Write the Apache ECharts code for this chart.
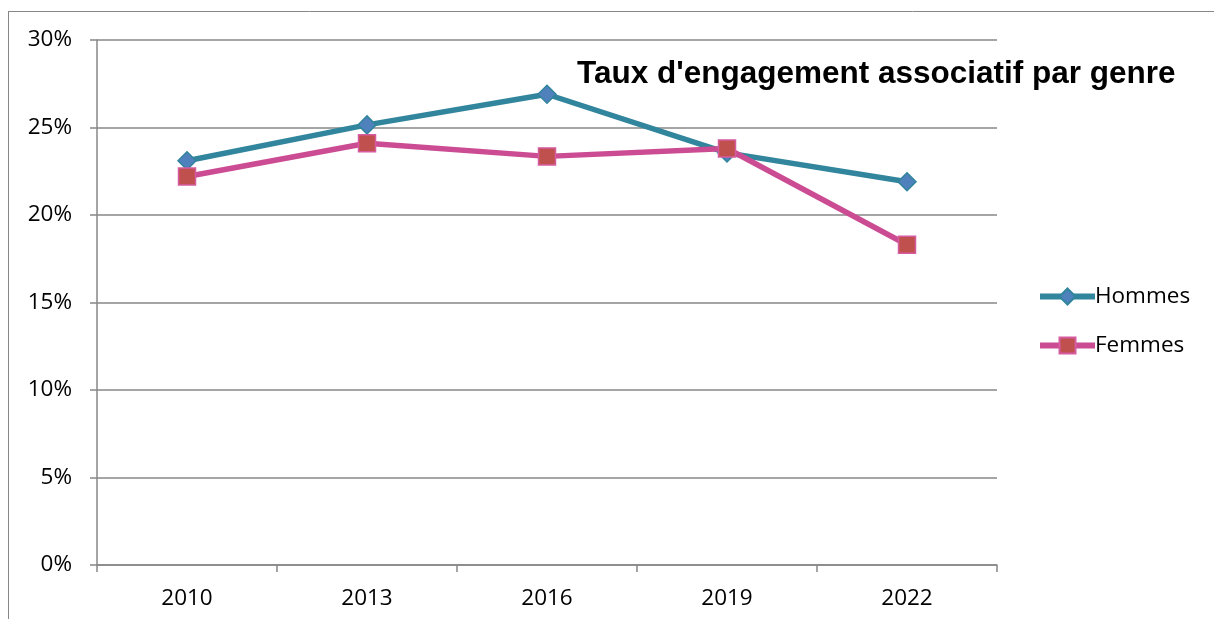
<!DOCTYPE html>
<html>
<head>
<meta charset="utf-8">
<script src="https://cdn.jsdelivr.net/npm/echarts@6/dist/echarts.min.js"></script>
<style>
html,body{margin:0;padding:0;background:#fff;}
#c{width:1214px;height:619px;}
</style>
</head>
<body>
<div id="c"></div>
<script>
var categories = ['2010', '2013', '2016', '2019', '2022'];
var hommes = [23.1, 25.15, 26.9, 23.55, 21.9];
var femmes = [22.2, 24.1, 23.35, 23.8, 18.3];
var titleText = "Taux d'engagement associatif par genre";

var chart = echarts.init(document.getElementById('c'));
var gray = '#878787';
chart.setOption({
  animation: false,
  backgroundColor: '#fff',
  title: {
    text: titleText,
    left: 572, top: 53,
    textStyle: {fontFamily: 'Liberation Sans', fontWeight: 'bold', fontSize: 31.5, color: '#000'}
  },
  legend: {
    orient: 'vertical',
    left: 1037, top: 285,
    padding: 0,
    itemWidth: 55, itemHeight: 20, itemGap: 26,
    lineStyle: {width: 6},
    textStyle: {fontFamily: 'Open Sans', fontSize: 22.5, color: '#000', padding: [0,0,0,-5]},
    data: ['Hommes', 'Femmes']
  },
  graphic: [
    {type: 'line', shape: {x1: 8, y1: 11.5, x2: 1214, y2: 11.5}, style: {stroke: gray, lineWidth: 1}},
    {type: 'line', shape: {x1: 8.5, y1: 11, x2: 8.5, y2: 619}, style: {stroke: gray, lineWidth: 1}}
  ],
  grid: {left: 97, right: 217, top: 40, bottom: 54, containLabel: false},
  xAxis: {
    type: 'category',
    data: categories,
    boundaryGap: true,
    axisLine: {lineStyle: {color: gray, width: 1.5}},
    axisTick: {show: true, length: 7, lineStyle: {color: gray, width: 1.5}},
    axisLabel: {fontFamily: 'Open Sans', fontSize: 22.5, color: '#000', margin: 22}
  },
  yAxis: {
    type: 'value',
    min: 0, max: 30, interval: 5,
    axisLine: {show: true, lineStyle: {color: gray, width: 1.5}},
    axisTick: {show: true, length: 7, lineStyle: {color: gray, width: 1.5}},
    splitLine: {lineStyle: {color: gray, width: 1.5}},
    axisLabel: {fontFamily: 'Open Sans', fontSize: 22.5, color: '#000', margin: 25, formatter: '{value}%'}
  },
  series: [
    {
      name: 'Hommes', type: 'line', data: hommes,
      symbol: 'diamond', symbolSize: 18, showAllSymbol: true,
      lineStyle: {color: '#31859C', width: 5.5},
      itemStyle: {color: '#4F81BD', borderColor: '#31859C', borderWidth: 1.5},
      z: 2
    },
    {
      name: 'Femmes', type: 'line', data: femmes,
      symbol: 'rect', symbolSize: 17, showAllSymbol: true,
      lineStyle: {color: '#CC4C93', width: 5.5},
      itemStyle: {color: '#C0504D', borderColor: '#D65BA0', borderWidth: 1.5},
      z: 3
    }
  ]
});
</script>
</body>
</html>
